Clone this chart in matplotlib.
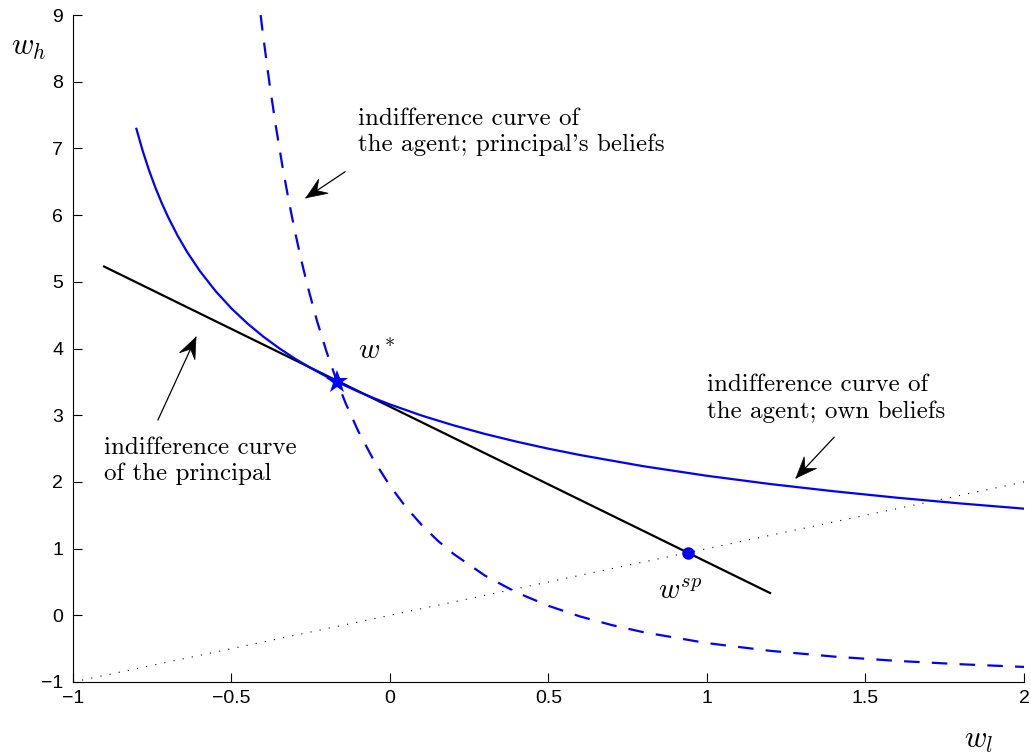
import numpy as np
import matplotlib
matplotlib.use("Agg")
import matplotlib.pyplot as plt
from matplotlib.patches import Polygon
from matplotlib.transforms import IdentityTransform

# values
# agent's indifference curve, own beliefs (solid blue)
own_x = [-0.80, -0.78, -0.76, -0.74, -0.72, -0.70, -0.67, -0.64, -0.60, -0.55,
         -0.50, -0.45, -0.40, -0.35, -0.30, -0.25, -0.20, -0.15, -0.10, -0.05,
         0.0, 0.1, 0.2, 0.3, 0.4, 0.5, 0.6, 0.8, 1.0, 1.2, 1.4, 1.6, 1.8, 2.0]
own_y = [7.295, 6.963, 6.671, 6.413, 6.181, 5.972, 5.693, 5.448, 5.164, 4.860,
         4.601, 4.377, 4.180, 4.006, 3.849, 3.708, 3.579, 3.462, 3.354, 3.254,
         3.162, 2.995, 2.849, 2.719, 2.603, 2.498, 2.403, 2.235, 2.092, 1.968,
         1.860, 1.763, 1.677, 1.599]

# agent's indifference curve, principal's beliefs (dashed blue)
bel_x = [-0.408, -0.40, -0.38, -0.36, -0.34, -0.32, -0.30, -0.28, -0.26, -0.23,
         -0.20, -0.17, -0.14, -0.10, -0.05, 0.0, 0.05, 0.10, 0.15, 0.20,
         0.3, 0.4, 0.5, 0.6, 0.7, 0.8, 1.0, 1.2, 1.4, 1.6, 1.8, 2.0]
bel_y = [9.0, 8.685, 7.971, 7.331, 6.754, 6.232, 5.759, 5.329, 4.937, 4.411,
         3.950, 3.542, 3.181, 2.760, 2.314, 1.941, 1.624, 1.354, 1.122, 0.922,
         0.594, 0.341, 0.142, -0.018, -0.147, -0.254, -0.417, -0.533, -0.619,
         -0.684, -0.734, -0.774]

# principal's indifference curve (black line)
pr_x = [-0.902, 1.199]
pr_y = [5.23, 0.334]

# certainty line
cert_x = [-1, 2]
cert_y = [-1, 2]

w_star = (-0.167, 3.50)
w_sp = (0.940, 0.934)

plt.rcParams['mathtext.fontset'] = 'cm'

fig = plt.figure(figsize=(10.31, 7.55), dpi=100)
ax = fig.add_axes([0.0708, 0.0967, 0.9224, 0.8833])

ax.plot(cert_x, cert_y, color='black', lw=0.8, linestyle=(0, (1, 7.4)))
ax.plot(pr_x, pr_y, color='black', lw=1.6)
ax.plot(own_x, own_y, color='blue', lw=1.6)
ax.plot(bel_x, bel_y, color='blue', lw=1.6, linestyle=(0, (7, 5.5)))
ax.plot(*w_star, marker='*', color='blue', markersize=17, markeredgewidth=0)
ax.plot(*w_sp, marker='o', color='blue', markersize=9, markeredgewidth=0)

ax.set_xlim(-1, 2)
ax.set_ylim(-1, 9)
ax.set_xticks([-1, -0.5, 0, 0.5, 1, 1.5, 2])
ax.set_xticklabels(['\u22121', '\u22120.5', '0', '0.5', '1', '1.5', '2'])
ax.set_yticks(range(-1, 10))
ax.set_yticklabels(['\u22121'] + [str(i) for i in range(0, 10)])
for s in ['top', 'right']:
    ax.spines[s].set_visible(False)
for s in ['left', 'bottom']:
    ax.spines[s].set_linewidth(0.8)
ax.tick_params(direction='in', length=6.5, width=0.8, labelsize=14)
ax.tick_params(axis='y', pad=7)
ax.tick_params(axis='x', pad=6)
for lab in ax.get_xticklabels() + ax.get_yticklabels():
    lab.set_fontfamily('Liberation Sans')

txt = dict(family='cmr10', fontsize=18, va='center', ha='left', linespacing=1.22)
ax.text(-0.101, 7.25, "indifference curve of\nthe agent; principal's beliefs", **txt)
ax.text(-0.902, 2.31, "indifference curve\nof the principal", **txt)
ax.text(1.0, 3.25, "indifference curve of\nthe agent; own beliefs", **txt)

ax.text(-0.101, 3.97, r'$w^*$', fontsize=21, va='center', ha='left')
ax.text(0.845, 0.36, r'$w^{sp}$', fontsize=21, va='center', ha='left')
ax.text(-1.197, 8.52, r'$w_h$', fontsize=22, va='center', ha='left', clip_on=False)
ax.text(1.81, -1.87, r'$w_l$', fontsize=22, va='center', ha='left', clip_on=False)


# arrows with swept-back heads, like the matlab annotation arrows
def arrow(tail, tip):
    ax.plot([tail[0], tip[0]], [tail[1], tip[1]], color='black', lw=0.9)
    p0 = ax.transData.transform(tail)
    p1 = ax.transData.transform(tip)
    d = (p1 - p0) / np.hypot(*(p1 - p0))
    n = np.array([-d[1], d[0]])
    L, W, N = 21, 8.5, 8
    pts = [p1, p1 - L * d + W * n, p1 - (L - N) * d, p1 - L * d - W * n]
    ax.add_patch(Polygon(pts, closed=True, facecolor='black', edgecolor='black',
                         lw=0.5, transform=IdentityTransform(), clip_on=False))


arrow((-0.142, 6.65), (-0.265, 6.26))
arrow((-0.732, 2.93), (-0.612, 4.17))
arrow((1.401, 2.67), (1.281, 2.06))

fig.savefig('out.png', dpi=100)
